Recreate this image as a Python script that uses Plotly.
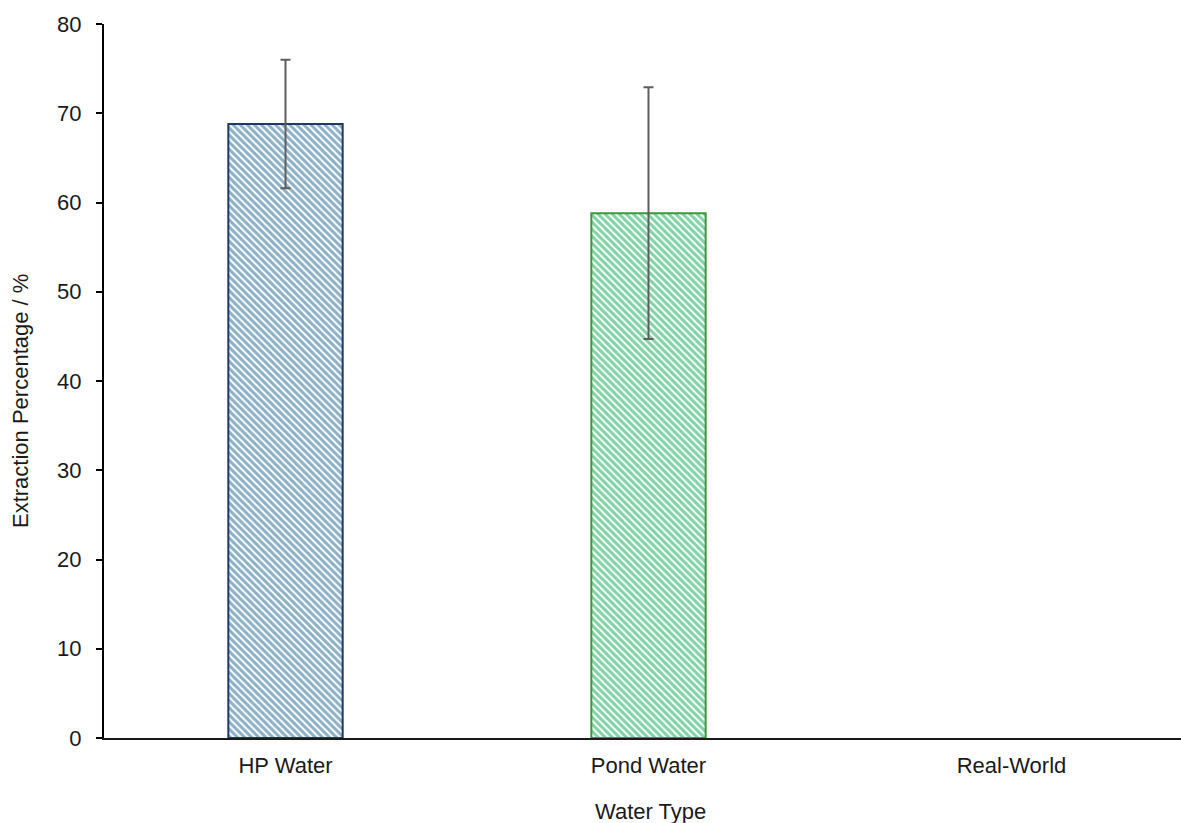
import plotly.graph_objects as go

categories = ["HP Water", "Pond Water", "Real-World"]
values = [68.8, 58.8, None]
errors = [7.2, 14.1, None]
border_colors = ["#1F3864", "#3A9A3A", "#000000"]
hatch_colors = ["#1A628F", "#00A84A", "#000000"]

FONT = "Liberation Sans, Arial, sans-serif"
FS = 22

fig = go.Figure()
fig.add_trace(go.Bar(
    x=categories,
    y=values,
    width=0.315,
    marker=dict(
        color="white",
        line=dict(color=border_colors, width=2),
        pattern=dict(shape="\\", fgcolor=hatch_colors, bgcolor="white",
                     size=5, solidity=0.6, fillmode="overlay"),
    ),
    error_y=dict(type="data", array=errors, symmetric=True, visible=True,
                 color="#5E5E5E", thickness=2, width=5),
    showlegend=False,
))

fig.update_layout(
    width=1181, height=823,
    margin=dict(l=104, r=0, t=24, b=85),
    paper_bgcolor="white", plot_bgcolor="white",
    font=dict(family=FONT, size=FS, color="#1a1a1a"),
    showlegend=False,
    xaxis=dict(
        range=[-0.5, 2.467], showline=True, linecolor="#1a1a1a", linewidth=2,
        ticks="", showgrid=False, zeroline=False, ticklabelstandoff=7,
        tickfont=dict(family=FONT, size=FS, color="#1a1a1a"),
    ),
    yaxis=dict(
        range=[0, 80], dtick=10, showline=True, linecolor="#000000", linewidth=2,
        ticks="outside", ticklen=6, tickwidth=2, tickcolor="#000000",
        showgrid=False, zeroline=False, ticklabelstandoff=10,
        tickfont=dict(family=FONT, size=FS, color="#1a1a1a"),
    ),
    annotations=[
        dict(text="Extraction Percentage / %", textangle=-90, xref="paper", yref="paper",
             x=(20 - 104) / 1077, y=(738 - 401) / 714, xanchor="center", yanchor="middle",
             showarrow=False, font=dict(family=FONT, size=FS, color="#1a1a1a")),
        dict(text="Water Type", xref="paper", yref="paper",
             x=(650 - 104) / 1077, y=-(811 - 738) / 714, xanchor="center", yanchor="middle",
             showarrow=False, font=dict(family=FONT, size=FS, color="#1a1a1a")),
    ],
)

fig.write_html(
    "out.html",
    config={"displayModeBar": False},
    post_script="document.body.style.margin='0';document.body.style.overflow='hidden';",
)
